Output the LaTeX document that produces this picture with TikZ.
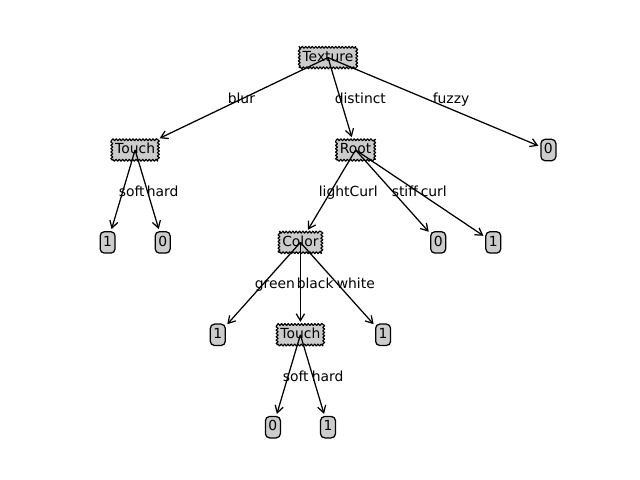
\documentclass[tikz,border=0pt]{standalone}
\usepackage{fontspec}
\setmainfont{DejaVu Sans}
\usetikzlibrary{arrows.meta,decorations.pathmorphing}
\begin{document}
\begin{tikzpicture}[x=0.72pt,y=-0.72pt,
  font=\fontsize{10}{12}\selectfont,
  decision/.style={draw, fill=black!20, line width=0.8pt, line join=bevel, decorate,
    decoration={zigzag, segment length=2.4pt, amplitude=0.75pt},
    inner xsep=2.4pt, inner ysep=2.4pt, text height=7.6pt, text depth=2.4pt},
  leaf/.style={draw, fill=black!20, line width=0.9pt, rounded corners=3pt,
    inner xsep=2.2pt, inner ysep=2.7pt, text height=7.6pt, text depth=2.4pt},
  edge/.style={-{Straight Barb[length=5pt,width=6pt]}, line width=0.9pt, shorten >=1.5pt},
  lbl/.style={anchor=base west, inner sep=0pt}]
\useasboundingbox (0,0) rectangle (640,480);
% nodes
\node[decision] (T) at (328,57.6) {Texture};
\node[decision] (A) at (135.1,150) {Touch};
\node[decision] (R) at (355.6,150) {Root};
\node[leaf] (F) at (548.4,150) {0};
\node[leaf] (A1) at (107.6,242.4) {1};
\node[leaf] (A0) at (162.7,242.4) {0};
\node[decision] (C) at (300.4,242.4) {Color};
\node[leaf] (S) at (438.2,242.4) {0};
\node[leaf] (U) at (493.3,242.4) {1};
\node[leaf] (G) at (217.8,334.8) {1};
\node[decision] (B) at (300.4,334.8) {Touch};
\node[leaf] (W) at (383.1,334.8) {1};
\node[leaf] (B0) at (272.9,427.2) {0};
\node[leaf] (B1) at (328,427.2) {1};
% edges
\draw[edge] (T.center) -- (A);
\draw[edge] (T.center) -- (R);
\draw[edge] (T.center) -- (F);
\draw[edge] (A.center) -- (A1);
\draw[edge] (A.center) -- (A0);
\draw[edge] (R.center) -- (C);
\draw[edge] (R.center) -- (S);
\draw[edge] (R.center) -- (U);
\draw[edge] (C.center) -- (G);
\draw[edge] (C.center) -- (B);
\draw[edge] (C.center) -- (W);
\draw[edge] (B.center) -- (B0);
\draw[edge] (B.center) -- (B1);
% labels
\node[lbl] (l1) at (227.5,103.8) {blur};
\node[lbl] (l2) at (334.5,103.8) {distinct};
\node[lbl] (l3) at (432.5,103.8) {fuzzy};
\node[lbl] (l4) at (118.5,196.2) {soft};
\node[lbl] (l5) at (146.5,196.2) {hard};
\node[lbl] (l6) at (318.5,196.2) {lightCurl};
\node[lbl] (l7) at (391.5,196.2) {stiff};
\node[lbl] (l8) at (420.5,196.2) {curl};
\node[lbl] (l9) at (254.5,288.6) {green};
\node[lbl] (l10) at (296.5,288.6) {black};
\node[lbl] (l11) at (336.5,288.6) {white};
\node[lbl] (l12) at (282.5,381) {soft};
\node[lbl] (l13) at (311.5,381) {hard};
\end{tikzpicture}
\end{document}
